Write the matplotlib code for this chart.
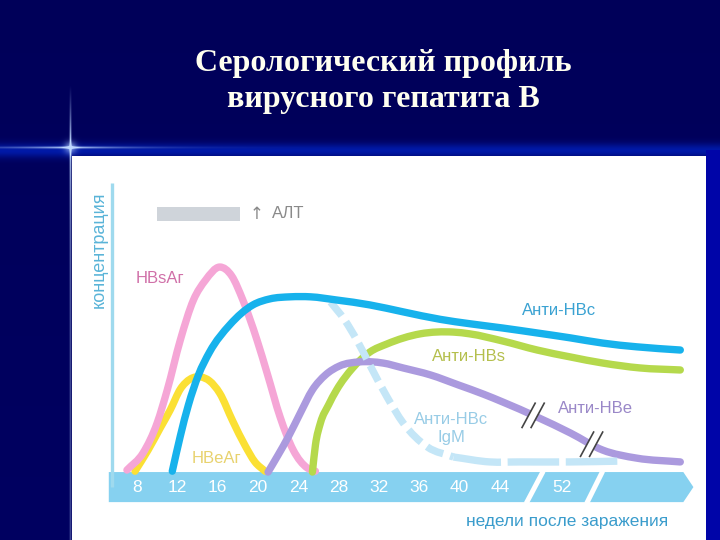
import numpy as np
import matplotlib
matplotlib.use("Agg")
import matplotlib.pyplot as plt
from matplotlib.patches import Polygon, Rectangle, PathPatch
from matplotlib.path import Path

# ---------------- data (x = position on the drawn, broken week scale; y = concentration) ----
hbsag_x = [7.0, 8.6, 10.0, 11.0, 12.3, 13.6, 14.8, 16.2, 17.4, 18.5, 19.9, 20.9, 22.2, 23.5, 24.9, 25.7]
hbsag_y = [0.7, 6.6, 17.0, 28.4, 45.7, 59.5, 66.4, 70.9, 67.8, 59.5, 45.7, 34.3, 19.0, 7.6, 1.4, 0.3]

hbeag_x = [7.8, 9.1, 10.3, 11.3, 12.3, 13.3, 14.3, 15.2, 16.2, 17.5, 18.7, 19.7, 20.7]
hbeag_y = [0.3, 7.6, 15.2, 21.5, 28.7, 32.2, 32.9, 31.5, 27.3, 17.6, 9.3, 3.5, 0.3]

antihbc_x = [11.5, 12.3, 13.1, 14.1, 15.2, 17.2, 19.5, 21.2, 23.2, 25.2, 27.8, 31.1, 34.4, 38.1, 41.0, 44.3, 47.7, 51.0, 54.2, 57.6, 61.9]
antihbc_y = [0.3, 12.5, 23.2, 33.6, 41.5, 50.9, 57.8, 59.9, 60.6, 60.6, 59.5, 57.8, 55.4, 52.8, 51.3, 49.8, 48.1, 46.4, 44.6, 43.3, 42.2]

antihbs_x = [25.4, 25.7, 26.2, 27.0, 27.8, 29.4, 31.1, 32.8, 36.1, 39.4, 41.0, 44.3, 47.7, 51.0, 54.2, 57.9, 61.9]
antihbs_y = [0.0, 9.3, 17.0, 23.2, 28.4, 36.0, 41.5, 44.3, 47.8, 48.4, 47.8, 45.3, 42.2, 39.8, 37.7, 36.0, 35.3]

antihbe_x = [21.0, 22.0, 23.0, 24.2, 25.4, 26.7, 28.1, 30.1, 32.4, 34.4, 37.1, 39.9, 42.4, 44.3, 47.7, 51.0, 54.2, 57.6, 61.9]
antihbe_y = [0.0, 5.9, 12.1, 20.4, 28.4, 33.6, 36.7, 38.1, 37.7, 36.0, 33.6, 30.1, 26.9, 24.2, 19.0, 13.5, 7.6, 4.8, 3.5]

igm_x = [27.2, 28.6, 29.8, 31.1, 32.8, 34.4, 36.8, 39.4, 43.0, 46.0, 51.0, 56.2]
igm_y = [58.8, 52.6, 45.7, 37.0, 26.0, 17.0, 8.7, 5.2, 3.5, 3.5, 3.5, 3.8]

week_labels = [8, 12, 16, 20, 24, 28, 32, 36, 40, 44, 52]

# ---------------- figure & background ----------------
W, H = 720, 540
fig = plt.figure(figsize=(7.2, 5.4), dpi=100)

bg = fig.add_axes([0, 0, 1, 1])
bg.set_axis_off()
yy, xx = np.mgrid[0:H, 0:W].astype(float)
img = np.zeros((H, W, 3))
img[..., 2] = 0.35 + 0.03 * (yy / H)
band = np.exp(-((yy - 150) / 7.0) ** 2)
img[..., 1] += 0.10 * band
img[..., 2] += 0.30 * band
img[150:, 706:, 2] = 0.66
img[150:, 706:, 1] = 0.02
vert = np.exp(-((xx - 70) / 1.0) ** 2) * np.clip((yy - 85) / 50, 0, 1) * (0.35 + 0.65 * np.exp(-np.abs(yy - 147) / 70))
hor = np.exp(-((yy - 147) / 1.1) ** 2) * np.exp(-np.abs(xx - 70) / 50)
glow = np.exp(-(((xx - 70) / 6) ** 2 + ((yy - 147) / 6) ** 2))
fl = np.clip(0.9 * vert + 1.0 * hor + 0.6 * glow, 0, 1)
for k, c in enumerate([0.75, 0.85, 1.0]):
    img[..., k] = img[..., k] * (1 - fl) + c * fl
img = np.clip(img, 0, 1)
bg.imshow(img, extent=(0, W, H, 0), aspect='auto', interpolation='bilinear')
bg.set_xlim(0, W)
bg.set_ylim(H, 0)
bg.add_patch(Rectangle((72, 156), 706 - 72, H - 156, facecolor='white', edgecolor='none'))

title_kw = dict(ha='center', va='baseline', fontsize=23, fontweight='bold',
                family='Liberation Serif', color='#fffff0')
bg.text(383, 71, "Серологический профиль", **title_kw)
bg.text(383, 107, "вирусного гепатита В", **title_kw)

# ---------------- chart axes ----------------
ax = fig.add_axes([72 / W, 0, (706 - 72) / W, (H - 156) / H])
ax.set_xlim(1.55, 64.45)
ax.set_ylim(-23.5, 109.3)
ax.set_axis_off()
ax.patch.set_alpha(0)

BREAK_SHIFT = 1.8
def pos(w):
    return w if w <= 46 else w - BREAK_SHIFT

def smooth_path(xs, ys):
    x = np.asarray(xs, float)
    y = np.asarray(ys, float)
    n = len(x)
    h = np.diff(x)
    d = np.diff(y) / h
    m = np.empty(n)
    m[0], m[-1] = d[0], d[-1]
    for i in range(1, n - 1):
        m[i] = (d[i - 1] * h[i] + d[i] * h[i - 1]) / (h[i - 1] + h[i])
    verts = [(x[0], y[0])]
    codes = [Path.MOVETO]
    for i in range(n - 1):
        verts += [(x[i] + h[i] / 3, y[i] + m[i] * h[i] / 3),
                  (x[i + 1] - h[i] / 3, y[i + 1] - m[i + 1] * h[i] / 3),
                  (x[i + 1], y[i + 1])]
        codes += [Path.CURVE4] * 3
    return Path(verts, codes)

def curve(xs, ys, color, lw=5.3, ls='-', z=3, cap='round'):
    ax.add_patch(PathPatch(smooth_path(xs, ys), fill=False, edgecolor=color, lw=lw,
                           linestyle=ls, capstyle=cap, joinstyle='round', zorder=z))

# axis band (arrow) and vertical axis
band_col = '#86d1f0'
ax.add_patch(Polygon([(5.2, 0), (62.2, 0), (63.2, -5.2), (62.2, -10.4), (5.2, -10.4)],
                     closed=True, facecolor=band_col, edgecolor='none', zorder=1))
ax.plot([5.5, 5.5], [-5, 100], color='#9fdaee', lw=2.4, zorder=1, solid_capstyle='butt')
for xb, xt in [(46.6, 48.3), (52.6, 54.2)]:
    ax.plot([xb, xt], [-10.9, 0.3], color='white', lw=3.6, zorder=2, solid_capstyle='butt')

for w in week_labels:
    ax.text(pos(w), -5.3, str(w), ha='center', va='center', fontsize=12.5,
            color='white', family='Liberation Sans')

# curves
curve(hbeag_x, hbeag_y, '#fbe034', z=3)
curve(hbsag_x, hbsag_y, '#f5a6d6', z=4)
curve(antihbs_x, antihbs_y, '#b5d94c', z=5)
curve(antihbe_x, antihbe_y, '#ab9ade', z=6)
split = 8
curve(igm_x[:split], igm_y[:split], '#c4e6f7', ls=(0, (2.4, 1.0)), z=7, cap='butt')
curve(igm_x[split - 1:], igm_y[split - 1:], '#c4e6f7', ls=(0.5, (7.0, 0.9)), z=7, cap='butt')
curve(antihbc_x, antihbc_y, '#17b2ec', z=8)

# break marks on Anti-HBe
for xb in [47.3, 53.1]:
    yb = np.interp(xb, antihbe_x, antihbe_y)
    dx, dy, sep = 0.65, 4.2, 0.45
    ax.add_patch(Polygon([(xb - sep - dx, yb - dy), (xb - sep + dx, yb + dy),
                          (xb + sep + dx, yb + dy), (xb + sep - dx, yb - dy)],
                         closed=True, facecolor='white', edgecolor='none', zorder=9))
    for s in (-sep, sep):
        ax.plot([xb + s - dx, xb + s + dx], [yb - dy, yb + dy], color='#444444', lw=1.2, zorder=10)

# labels
lab = dict(fontsize=12, family='Liberation Sans', va='center')
ax.text(7.9, 67.1, "HBsAг", color='#d070a8', ha='left', **lab)
ax.text(13.4, 4.8, "HBeAг", color='#e8d26e', ha='left', zorder=11, **lab)
ax.text(46.2, 55.7, "Анти-HBc", color='#3aa2d2', ha='left', **lab)
ax.text(37.3, 39.8, "Анти-HBs", color='#b4bf4c', ha='left', **lab)
ax.text(39.2, 18.0, "Анти-HBc", color='#98cce6', ha='center', **lab)
ax.text(39.2, 11.8, "IgM", color='#98cce6', ha='center', **lab)
ax.text(49.8, 22.1, "Анти-HBe", color='#9a88c8', ha='left', **lab)

# ALT legend
ax.add_patch(Rectangle((10.0, 86.9), 8.2, 4.8, facecolor='#cfd4da', edgecolor='none', zorder=2))
ax.text(19.9, 89.3, "↑", color='#8a8a8a', ha='center', va='center', fontsize=12,
        family=['DejaVu Sans'])
ax.text(21.4, 89.3, "АЛТ", color='#8a8a8a', ha='left', va='center', fontsize=12,
        family='Liberation Sans')

ax.text(4.25, 77.0, "концентрация", color='#5ab4d8', ha='center', va='center',
        rotation=90, fontsize=13, family='Liberation Sans')
ax.text(60.7, -17.0, "недели после заражения", color='#3a9ccc', ha='right', va='center',
        fontsize=12.5, family='Liberation Sans')

fig.savefig("out.png", dpi=100)
